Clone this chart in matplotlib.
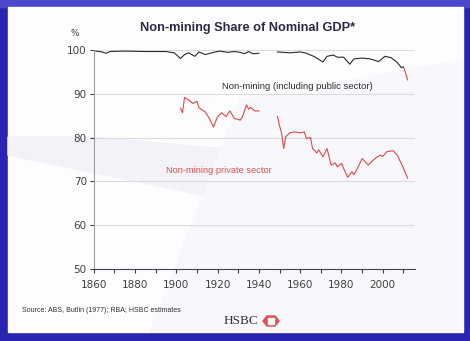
import numpy as np
import matplotlib.pyplot as plt
from matplotlib.patches import Rectangle, Polygon, RegularPolygon

# non-mining incl. public sector (black), gap during 1941-1948
total_years = [1861, 1864, 1866, 1868, 1875, 1885, 1895, 1899, 1902, 1904, 1906, 1909,
               1911, 1914, 1918, 1921, 1925, 1928, 1931, 1933, 1935, 1937, 1940,
               1944,
               1949, 1955, 1960, 1963, 1967, 1971, 1973, 1976, 1978, 1981, 1984, 1986,
               1990, 1994, 1998, 2001, 2004, 2007, 2009, 2010]
total_vals = [99.8, 99.6, 99.3, 99.7, 99.8, 99.7, 99.7, 99.4, 98.1, 99.0, 99.4, 98.6,
              99.6, 99.0, 99.5, 99.8, 99.5, 99.7, 99.5, 99.2, 99.7, 99.2, 99.3,
              np.nan,
              99.6, 99.4, 99.6, 99.3, 98.5, 97.3, 98.6, 98.9, 98.4, 98.4, 96.8, 98.0,
              98.2, 98.0, 97.4, 98.6, 98.3, 97.2, 96.0, 96.2]
# latest estimates drawn in red
tail_years = [2010, 2011, 2012]
tail_vals = [96.2, 94.8, 93.2]

# non-mining private sector (red)
priv_years = [1902, 1903, 1904, 1906, 1908, 1910, 1911, 1914, 1916, 1918, 1920, 1922,
              1924, 1926, 1928, 1931, 1932, 1934, 1935, 1936, 1938, 1940,
              1944,
              1949, 1950, 1951, 1952, 1953, 1955, 1957, 1960, 1962, 1963, 1965, 1966,
              1968, 1969, 1971, 1973, 1975, 1977, 1978, 1980, 1981, 1983, 1985, 1986,
              1987, 1990, 1991, 1993, 1995, 1997, 1999, 2000, 2002, 2005, 2007, 2010,
              2012]
priv_vals = [86.7, 85.7, 89.2, 88.6, 87.8, 88.3, 86.8, 85.9, 84.4, 82.4, 84.8, 85.7,
             84.8, 86.1, 84.4, 84.0, 84.7, 87.5, 86.5, 86.9, 86.1, 86.1,
             np.nan,
             84.8, 82.7, 81.0, 77.5, 80.2, 81.1, 81.3, 81.1, 81.3, 79.8, 80.0, 77.5,
             76.5, 77.2, 75.6, 77.5, 73.7, 74.2, 73.3, 74.1, 73.0, 70.9, 72.2, 71.5,
             72.3, 75.2, 74.7, 73.7, 74.7, 75.5, 76.0, 75.7, 76.8, 77.0, 76.0, 73.0,
             70.7]

y_ticks = [50, 60, 70, 80, 90, 100]
x_labels = [1860, 1880, 1900, 1920, 1940, 1960, 1980, 2000]

W, H = 470, 341
fig = plt.figure(figsize=(W / 100, H / 100), dpi=100)
fig.patch.set_facecolor('#2a24b4')

# frame and panel
fig.patches.append(Rectangle((0, 1 - 7 / H), 1, 7 / H, transform=fig.transFigure,
                             color='#4a48c8', zorder=0))
fig.patches.append(Rectangle((8 / W, 9 / H), 455 / W, 325 / H, transform=fig.transFigure,
                             color='#fdfdff', zorder=0))
# faint background swoosh
fig.patches.append(Polygon([(8 / W, 1 - 137 / H), (8 / W, 1 - 155 / H), (300 / W, 1 - 215 / H),
                            (462 / W, 1 - 190 / H), (462 / W, 1 - 170 / H), (93 / W, 1 - 137 / H)],
                           closed=True, transform=fig.transFigure, color='#f2f2f8', zorder=0))
fig.patches.append(Polygon([(150 / W, 9 / H), (240 / W, 1 - 100 / H), (462 / W, 1 - 60 / H),
                            (462 / W, 9 / H)],
                           closed=True, transform=fig.transFigure, color='#f8f8fc', zorder=0))

ax = fig.add_axes([93.7 / W, 1 - 268.7 / H, (415 - 93.7) / W, (268.7 - 50.2) / H])
ax.set_zorder(5)
ax.patch.set_alpha(0)

ax.plot(total_years, total_vals, color='#2a2a2a', lw=0.8)
ax.plot(tail_years, tail_vals, color='#e04848', lw=0.8)
ax.plot(priv_years, priv_vals, color='#e04848', lw=0.8)

ax.set_xlim(1860, 2015.6)
ax.set_ylim(50, 100)
ax.set_yticks(y_ticks)
ax.set_xticks(np.arange(1860, 2011, 10))
ax.set_xticklabels([str(y) if y in x_labels else '' for y in range(1860, 2011, 10)])
for y in y_ticks[1:]:
    ax.axhline(y, color='#dcdcdc', lw=0.8, zorder=0)

for s in ['top', 'right']:
    ax.spines[s].set_visible(False)
ax.spines['left'].set_color('#a0a0a0')
ax.spines['bottom'].set_color('#404050')
ax.tick_params(axis='y', length=3, width=0.8, color='#404040', labelsize=7.5,
               labelcolor='#404040', pad=2)
ax.tick_params(axis='x', length=3, width=0.8, color='#404040', labelsize=7.5,
               labelcolor='#404040', pad=5)

fig.text(75 / W, 1 - 33 / H, '%', fontsize=6.5, color='#404040', ha='center', va='center')
fig.text(248 / W, 1 - 28 / H, 'Non-mining Share of Nominal GDP*', ha='center', va='center',
         fontsize=9.2, color='#2a2a45', fontweight='bold', family='Liberation Sans')
ax.text(1922, 91.8, 'Non-mining (including public sector)', fontsize=6.8, color='#303030',
        ha='left', va='center', family='Liberation Sans')
ax.text(1895, 72.5, 'Non-mining private sector', fontsize=6.7, color='#e05050',
        ha='left', va='center', family='Liberation Sans')
fig.text(22 / W, 1 - 311 / H, 'Source: ABS, Butlin (1977); RBA; HSBC estimates', fontsize=5,
         color='#303030', ha='left', va='center', family='Liberation Sans')
fig.text(258 / W, 1 - 321 / H, 'HSBC', fontsize=9.5, color='#303040', ha='right', va='center',
         family='Liberation Serif')
fig.patches.append(RegularPolygon((271 / W, 1 - 321 / H), 6, radius=8 / W, orientation=np.pi / 6,
                                  transform=fig.transFigure, color='#e05050', zorder=3))
fig.patches.append(Rectangle((268 / W, 1 - 324 / H), 6 / W, 6 / H, transform=fig.transFigure,
                             color='white', zorder=4))

fig.savefig('out.png', dpi=100, facecolor=fig.get_facecolor())
